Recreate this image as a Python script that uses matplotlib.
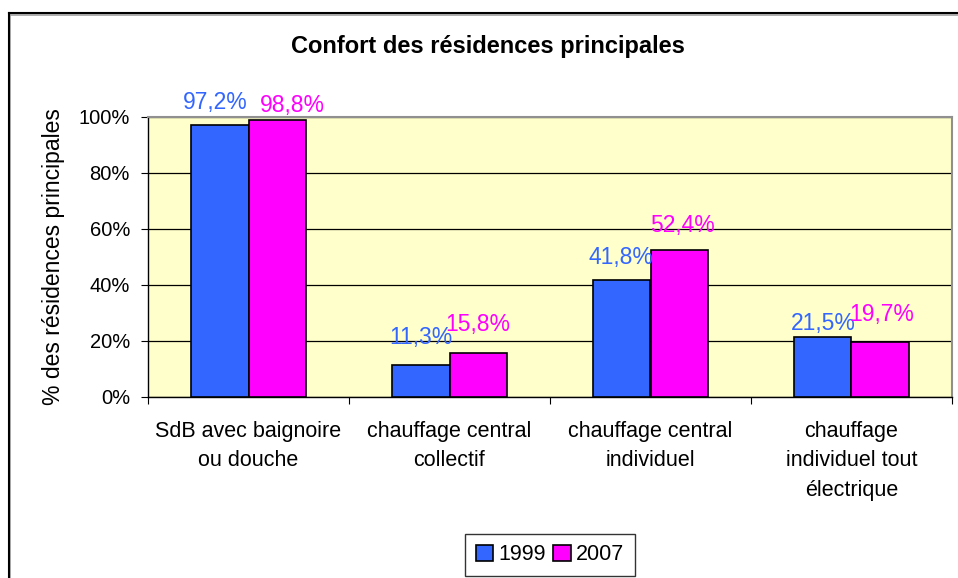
import matplotlib
matplotlib.use("Agg")
import matplotlib.pyplot as plt
import numpy as np
from matplotlib.lines import Line2D
from matplotlib.patches import Patch
from matplotlib.ticker import FixedLocator, NullFormatter

plt.rcParams['font.family'] = ['Liberation Sans', 'DejaVu Sans']

categories = ["SdB avec baignoire\nou douche",
              "chauffage central\ncollectif",
              "chauffage central\nindividuel",
              "chauffage\nindividuel tout\nélectrique"]
series_names = ["1999", "2007"]
values_1999 = [97.2, 11.3, 41.8, 21.5]
values_2007 = [98.8, 15.8, 52.4, 19.7]
yticks = [0, 20, 40, 60, 80, 100]

colors = ["#3366FF", "#FF00FF"]
# label offsets in pixels (dx, dy of label centre above bar top)
off_1999 = [(-5, 22), (0, 28), (-1, 22), (0, 13)]
off_2007 = [(15, 15), (0, 28), (3, 25), (2, 27)]

fig = plt.figure(figsize=(9.58, 5.78), dpi=100)
ax = fig.add_axes([148/958, 1-397/578, (952-148)/958, (397-117)/578])
ax.set_facecolor("#FFFFCC")

x = np.arange(len(categories))
w = 0.285
b1 = ax.bar(x - w/2, values_1999, w, color=colors[0], edgecolor="black", linewidth=1.2, zorder=3)
b2 = ax.bar(x + w/2, values_2007, w, color=colors[1], edgecolor="black", linewidth=1.2, zorder=3)

for bars, vals, offs, col in [(b1, values_1999, off_1999, colors[0]), (b2, values_2007, off_2007, colors[1])]:
    for r, v, (dx, dy) in zip(bars, vals, offs):
        ax.annotate(f"{v:.1f}%".replace(".", ","),
                    xy=(r.get_x() + r.get_width()/2, r.get_height()),
                    xytext=(dx, dy), textcoords="offset pixels",
                    ha="center", va="center", color=col, fontsize=16.5, zorder=5)

ax.set_xlim(-0.5, len(categories) - 0.5)
ax.set_ylim(0, 100)
ax.set_yticks(yticks)
ax.set_yticklabels([f"{t}%" for t in yticks], fontsize=14.5)
ax.yaxis.grid(True, color="black", linewidth=0.9, zorder=1)
ax.set_axisbelow(True)

ax.xaxis.set_major_locator(FixedLocator(np.arange(-0.5, len(categories), 1.0)))
ax.xaxis.set_major_formatter(NullFormatter())
ax.xaxis.set_minor_locator(FixedLocator(x))
ax.set_xticklabels(categories, minor=True, fontsize=15.5, linespacing=1.55)
ax.tick_params(axis="x", which="minor", length=0, pad=17)
ax.tick_params(axis="x", which="major", length=5, direction="out", color="black")
ax.tick_params(axis="y", length=5, direction="out", color="black", pad=8)

for s in ["top", "right"]:
    ax.spines[s].set_color("#909090")
    ax.spines[s].set_linewidth(1.5)
for s in ["left", "bottom"]:
    ax.spines[s].set_color("black")
    ax.spines[s].set_linewidth(1.0)

ax.set_ylabel("% des résidences principales", fontsize=16.5, labelpad=10)
fig.text(488/958, 1-46/578, "Confort des résidences principales",
         ha="center", va="center", fontsize=17, fontweight="bold")

# outer chart frame (left and top edges visible)
fig.add_artist(Line2D([10/958, 10/958], [0, 1-13/578], color="#A0A0A0", linewidth=1.2, transform=fig.transFigure))
fig.add_artist(Line2D([10/958, 1], [1-15/578, 1-15/578], color="#A0A0A0", linewidth=1.2, transform=fig.transFigure))
fig.add_artist(Line2D([9/958, 9/958], [0, 1-13/578], color="black", linewidth=1.5, transform=fig.transFigure))
fig.add_artist(Line2D([9/958, 1], [1-13/578, 1-13/578], color="black", linewidth=1.5, transform=fig.transFigure))

handles = [Patch(facecolor=c, edgecolor="black", linewidth=1.2) for c in colors]
leg = fig.legend(handles, series_names, loc="center", bbox_to_anchor=(550/958, 1-555/578),
                 ncol=2, fontsize=15.5, frameon=True, fancybox=False, edgecolor="black",
                 handlelength=0.8, handleheight=0.8, handletextpad=0.25, columnspacing=0.35,
                 borderpad=0.5, borderaxespad=0.3)
leg.get_frame().set_linewidth(1.0)

fig.savefig("out.png", dpi=100)
